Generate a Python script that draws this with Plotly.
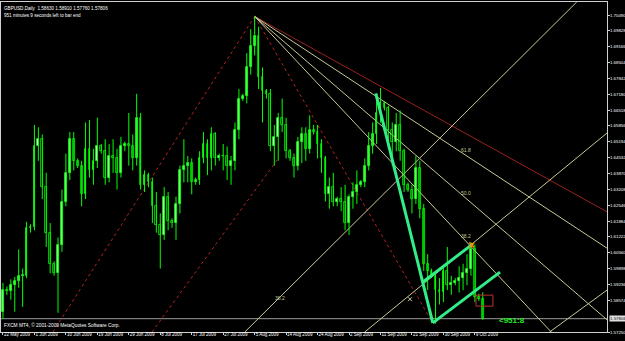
import plotly.graph_objects as go

# ---------------- data ----------------
bar_index = list(range(123))
opens = [1.5810,1.5900,1.5895,1.5920,1.5940,1.5960,1.5960,1.6160,1.6165,1.6500,1.6530,1.6330,1.6140,1.6010,1.5970,1.6090,
         1.6270,1.6390,1.6530,1.6440,1.6420,1.6300,1.6490,1.6400,1.6440,1.6500,1.6480,1.6370,1.6460,1.6450,1.6390,1.6500,
         1.6510,1.6500,1.6450,1.6620,1.6340,1.6380,1.6350,1.6250,1.6170,1.6130,1.6290,1.6190,1.6180,1.6260,1.6400,1.6420,
         1.6430,1.6350,1.6360,1.6450,1.6510,1.6450,1.6550,1.6450,1.6460,1.6460,1.6420,1.6440,1.6570,1.6700,1.6710,1.6830,
         1.6920,1.6960,1.6790,1.6730,1.6720,1.6500,1.6540,1.6620,1.6590,1.6480,1.6450,1.6420,1.6520,1.6550,1.6490,1.6570,
         1.6560,1.6510,1.6450,1.6300,1.6330,1.6270,1.6280,1.6270,1.6180,1.6290,1.6310,1.6340,1.6350,1.6420,1.6500,1.6550,
         1.6640,1.6680,1.6660,1.6570,1.6520,1.6590,1.6480,1.6340,1.6320,1.6280,1.6410,1.6240,1.6010,1.5980,1.5960,1.5900,
         1.5890,1.5980,1.5920,1.5930,1.5940,1.5950,1.5970,1.5990,1.6070,1.5870,1.58630]
highs = [1.5930,1.5915,1.5945,1.5955,1.6070,1.5990,1.6185,1.6175,1.6590,1.6580,1.6550,1.6390,1.6180,1.6020,1.6120,1.6320,
         1.6470,1.6560,1.6560,1.6450,1.6440,1.6600,1.6610,1.6490,1.6620,1.6510,1.6530,1.6510,1.6530,1.6490,1.6540,1.6520,
         1.6640,1.6550,1.6720,1.6640,1.6400,1.6390,1.6370,1.6310,1.6220,1.6330,1.6310,1.6200,1.6290,1.6420,1.6530,1.6460,
         1.6450,1.6370,1.6480,1.6560,1.6530,1.6580,1.6560,1.6470,1.6510,1.6500,1.6460,1.6600,1.6740,1.6720,1.6890,1.6990,
         1.7043,1.7000,1.6830,1.6740,1.6740,1.6590,1.6640,1.6700,1.6620,1.6490,1.6470,1.6540,1.6580,1.6580,1.6630,1.6590,
         1.6590,1.6530,1.6460,1.6370,1.6390,1.6290,1.6330,1.6340,1.6300,1.6350,1.6400,1.6360,1.6450,1.6560,1.6600,1.6690,
         1.6744,1.6690,1.6670,1.6600,1.6640,1.6650,1.6490,1.6350,1.6340,1.6460,1.6440,1.6260,1.6050,1.5990,1.5980,1.5950,
         1.6000,1.6080,1.5960,1.5950,1.6000,1.6010,1.6050,1.6100,1.6090,1.5885,1.58910]
lows = [1.5780,1.5880,1.5860,1.5810,1.5910,1.5830,1.5950,1.6140,1.6150,1.6440,1.6280,1.6080,1.5970,1.5960,1.5805,1.6060,
        1.6250,1.6360,1.6400,1.6410,1.6250,1.6280,1.6370,1.6340,1.6410,1.6470,1.6340,1.6350,1.6390,1.6320,1.6370,1.6480,
        1.6420,1.6400,1.6420,1.6320,1.6310,1.6330,1.6180,1.6140,1.5990,1.6110,1.6150,1.6160,1.6110,1.6220,1.6350,1.6350,
        1.6300,1.6340,1.6340,1.6430,1.6380,1.6400,1.6420,1.6440,1.6400,1.6360,1.6340,1.6400,1.6530,1.6690,1.6680,1.6800,
        1.6880,1.6740,1.6600,1.6700,1.6480,1.6420,1.6440,1.6560,1.6450,1.6440,1.6370,1.6400,1.6430,1.6440,1.6470,1.6550,
        1.6450,1.6390,1.6270,1.6240,1.6250,1.6250,1.6230,1.6150,1.6130,1.6240,1.6260,1.6330,1.6330,1.6400,1.6470,1.6510,
        1.6600,1.6650,1.6490,1.6420,1.6480,1.6440,1.6310,1.6310,1.6220,1.6260,1.6200,1.5980,1.5900,1.5950,1.5760,1.5840,
        1.5850,1.5900,1.5880,1.5920,1.5890,1.5900,1.5920,1.5960,1.5850,1.5855,1.57760]
closes = [1.5900,1.5895,1.5920,1.5940,1.5960,1.5960,1.6160,1.6165,1.6500,1.6530,1.6330,1.6140,1.6010,1.5970,1.6090,1.6270,
          1.6390,1.6530,1.6440,1.6420,1.6300,1.6490,1.6400,1.6440,1.6500,1.6480,1.6370,1.6460,1.6450,1.6390,1.6500,1.6510,
          1.6500,1.6450,1.6620,1.6340,1.6380,1.6350,1.6250,1.6170,1.6130,1.6290,1.6190,1.6180,1.6260,1.6400,1.6420,1.6430,
          1.6350,1.6360,1.6450,1.6510,1.6450,1.6550,1.6450,1.6460,1.6460,1.6420,1.6440,1.6570,1.6700,1.6710,1.6830,1.6920,
          1.6960,1.6790,1.6730,1.6720,1.6500,1.6540,1.6620,1.6590,1.6480,1.6450,1.6420,1.6520,1.6550,1.6490,1.6570,1.6560,
          1.6510,1.6450,1.6300,1.6330,1.6270,1.6280,1.6270,1.6180,1.6290,1.6310,1.6340,1.6350,1.6420,1.6500,1.6550,1.6640,
          1.6680,1.6660,1.6570,1.6520,1.6590,1.6480,1.6340,1.6320,1.6280,1.6410,1.6240,1.6010,1.5980,1.5960,1.5900,1.5890,
          1.5980,1.5920,1.5930,1.5940,1.5950,1.5970,1.5990,1.6070,1.5870,1.5863,1.57806]

date_tick_index = [0, 8, 16, 24, 32, 40, 48, 56, 64, 72, 80, 88, 96, 104, 112, 120]
date_tick_text = ["22 May 2009", "1 Jun 2009", "10 Jun 2009", "19 Jun 2009", "29 Jun 2009", "8 Jul 2009",
                  "17 Jul 2009", "27 Jul 2009", "5 Aug 2009", "14 Aug 2009", "24 Aug 2009", "2 Sep 2009",
                  "11 Sep 2009", "21 Sep 2009", "30 Sep 2009", "9 Oct 2009"]
price_tick_text = ["1.70490", "1.69828", "1.69166", "1.68504", "1.67842", "1.67180", "1.66518", "1.65856",
                   "1.65194", "1.64532", "1.63870", "1.63208", "1.62546", "1.61884", "1.61222", "1.60560",
                   "1.59898", "1.59236", "1.58574", "1.57250"]
bid_price = 1.57806

# drawn objects (anchor points: bar index, price)
fan_start = (64.0, 1.7043)          # Fibonacci fan anchor 1 (Aug 5 high)
fan_end = (109.3, 1.5762)           # Fibonacci fan anchor 2 (late Sep low)
fan_levels = [0.382, 0.500, 0.618]
fan_labels = ["38.2", "50.0", "61.8"]
red_ray_point = (110.0, 1.6624)     # dark red ray from the high
red_dot_line1 = [(12.7, 1.5725), (64.0, 1.7043)]
red_dot_line2 = [(37.9, 1.5725), (70.0, 1.6450)]
pale_rising_a = [(92.0, 1.5725), (153.6, 1.6556)]
pale_rising_b = [(139.0, 1.5725), (153.6, 1.5900)]
pale_rising_c = [(61.5, 1.5725), (145.9, 1.71033)]
green_trend = [(94.8, 1.6722), (109.3, 1.5763)]
green_upper = [(106.8, 1.5934), (119.5, 1.6093)]
green_lower = [(109.3, 1.5763), (126.4, 1.5975)]
red_box = (120.3, 124.6, 1.5833, 1.5879)
marker_orange = (119.2, 1.6088)
marker_yellow = (103.5, 1.5862)

X_MIN, X_MAX = -0.5, 153.6
Y_MIN, Y_MAX = 1.5725, 1.71033

fig = go.Figure()

def line_trace(pts, color, width=1, dash="solid"):
    fig.add_trace(go.Scatter(x=[p[0] for p in pts], y=[p[1] for p in pts], mode="lines",
                             line=dict(color=color, width=width, dash=dash), hoverinfo="skip"))

def extend(p1, p2, x_end):
    slope = (p2[1] - p1[1]) / (p2[0] - p1[0])
    return (x_end, p1[1] + slope * (x_end - p1[0]))

# bid line
line_trace([(X_MIN, bid_price), (X_MAX, bid_price)], "#9a9a9a")

# red dotted lines
line_trace(red_dot_line1, "#b22222", 1, "dot")
line_trace(red_dot_line2, "#b22222", 1, "dot")
line_trace([fan_start, fan_end], "#b22222", 1, "dot")

# dark red ray
line_trace([fan_start, extend(fan_start, red_ray_point, X_MAX)], "#9b2020", 1)

# fib fan rays
for lv in fan_levels:
    pt = (fan_end[0], fan_end[1] + lv * (fan_start[1] - fan_end[1]))
    line_trace([fan_start, extend(fan_start, pt, X_MAX)], "#c8c896", 1)

line_trace(pale_rising_a, "#c8c896", 1)
line_trace(pale_rising_b, "#c8c896", 1)
line_trace(pale_rising_c, "#c8c896", 1)

# candles: wicks then bodies
wx, wy = [], []
for i, h, l in zip(bar_index, highs, lows):
    wx += [i, i, None]
    wy += [l, h, None]
fig.add_trace(go.Scatter(x=wx, y=wy, mode="lines", line=dict(color="#00ff00", width=1), hoverinfo="skip"))
body_base = [min(o, c) for o, c in zip(opens, closes)]
body_len = [max(abs(c - o), 0.00015) for o, c in zip(opens, closes)]
body_fill = ["#ffffff" if c >= o else "#000000" for o, c in zip(opens, closes)]
fig.add_trace(go.Bar(x=bar_index, y=body_len, base=body_base, width=0.45,
                     marker=dict(color=body_fill, line=dict(color="#00ff00", width=0.8)), hoverinfo="skip"))

# green hand-drawn lines
line_trace(green_trend, "#33ee88", 3)
line_trace(green_upper, "#33ee88", 3)
line_trace(green_lower, "#33ee88", 3)

# red box
bx0, bx1, by0, by1 = red_box
line_trace([(bx0, by0), (bx1, by0), (bx1, by1), (bx0, by1), (bx0, by0)], "#c03030", 1)

fig.add_trace(go.Scatter(x=[marker_orange[0]], y=[marker_orange[1]], mode="markers",
                         marker=dict(symbol="x-thin", size=5, line=dict(color="#ff8c00", width=1.5)), hoverinfo="skip"))
fig.add_trace(go.Scatter(x=[marker_yellow[0]], y=[marker_yellow[1]], mode="markers",
                         marker=dict(symbol="x-thin", size=4, line=dict(color="#c8c896", width=1)), hoverinfo="skip"))

# fan labels
for lv, lab in zip(fan_levels, fan_labels):
    pt = (fan_end[0], fan_end[1] + lv * (fan_start[1] - fan_end[1]))
    xl = 117.7
    yl = extend(fan_start, pt, xl)[1]
    fig.add_annotation(x=xl, y=yl, text=lab, showarrow=False, xanchor="center", yanchor="bottom",
                       font=dict(size=5, color="#c8c896", family="Liberation Sans"))
fig.add_annotation(x=70.5, y=1.5866, text="38.2", showarrow=False, xanchor="center", yanchor="middle",
                   font=dict(size=5, color="#c8c896", family="Liberation Sans"))

fig.add_annotation(xref="paper", yref="paper", x=0.002, y=0.995, xanchor="left", yanchor="top",
                   text="GBPUSD,Daily  1.58630 1.58910 1.57760 1.57806", showarrow=False,
                   font=dict(size=4.6, color="#ffffff", family="Liberation Sans"))
fig.add_annotation(xref="paper", yref="paper", x=0.002, y=0.972, xanchor="left", yanchor="top",
                   text="951 minutes 9 seconds left to bar end", showarrow=False,
                   font=dict(size=4.6, color="#ffffff", family="Liberation Sans"))
fig.add_annotation(xref="paper", yref="paper", x=0.002, y=0.005, xanchor="left", yanchor="bottom",
                   text="FXCM MT4, © 2001-2009 MetaQuotes Software Corp.", showarrow=False,
                   font=dict(size=4.8, color="#ffffff", family="Liberation Sans"))
fig.add_annotation(x=125.5, y=1.5775, xanchor="left", yanchor="middle", text="<b>&lt;951:8</b>", showarrow=False,
                   font=dict(size=8, color="#22ee22", family="Liberation Sans"))
# bid price tag on the axis
fig.add_annotation(xref="paper", x=1.0, y=bid_price, xanchor="left", yanchor="middle", text="1.57806",
                   showarrow=False, bgcolor="#e0e0e0", font=dict(size=4.4, color="#000000", family="Liberation Sans"),
                   borderpad=0, xshift=2)

fig.update_layout(
    width=625, height=341, margin=dict(l=1, r=18, t=2, b=9),
    paper_bgcolor="#000000", plot_bgcolor="#000000", showlegend=False, bargap=0,
    xaxis=dict(range=[X_MIN, X_MAX], showgrid=False, zeroline=False,
               tickmode="array", tickvals=date_tick_index, ticktext=date_tick_text, tickangle=0,
               ticks="outside", ticklen=2, tickcolor="#d0d0d0", ticklabelposition="outside right",
               ticklabelstandoff=-2,
               tickfont=dict(size=4.5, color="#ffffff", family="Liberation Sans"),
               showline=True, linecolor="#d0d0d0", linewidth=1, mirror=True, automargin=False),
    yaxis=dict(range=[Y_MIN, Y_MAX], side="right", showgrid=False, zeroline=False,
               tickmode="array", tickvals=[float(t) for t in price_tick_text], ticktext=price_tick_text,
               ticks="outside", ticklen=2, tickcolor="#d0d0d0", ticklabelstandoff=-1,
               tickfont=dict(size=4.4, color="#ffffff", family="Liberation Sans"),
               showline=True, linecolor="#d0d0d0", linewidth=1, mirror=True, automargin=False),
)

fig.write_html("out.html")
